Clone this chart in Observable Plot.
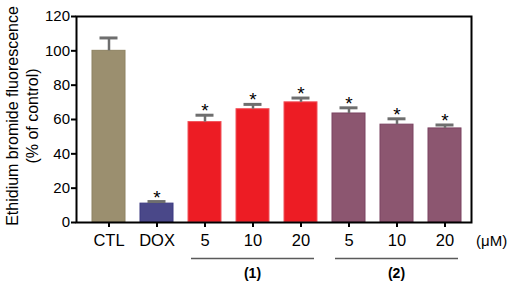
<!DOCTYPE html>
<html>
<head>
<meta charset="utf-8">
<script src="https://cdn.jsdelivr.net/npm/d3@7"></script>
<script src="https://cdn.jsdelivr.net/npm/@observablehq/plot@0.6"></script>
<style>
  html, body { margin: 0; padding: 0; background: #fff; }
  #chart { width: 510px; height: 284px; }
</style>
</head>
<body>
<div id="chart"></div>
<script>
// ---- data ----
const ids = ["CTL", "DOX", "1-5", "1-10", "1-20", "2-5", "2-10", "2-20"];
const tickLabels = ["CTL", "DOX", "5", "10", "20", "5", "10", "20"];
const values = [100, 11, 58.5, 66, 70, 63.5, 57, 54.8];
const errors = [7.5, 1.2, 4, 2.8, 2.5, 3.3, 3.4, 2];
const significant = [false, true, true, true, true, true, true, true];
const fills = ["#9b8f6f", "#4a4889", "#ed1c24", "#ed1c24", "#ed1c24", "#8c5670", "#8c5670", "#8c5670"];
const strokes = ["#8e8262", "#3b3980", "#f0525a", "#f0525a", "#f0525a", "#7b4261", "#7b4261", "#7b4261"];
const groupNames = ["(1)", "(2)"];
const groupMembers = [["1-5", "1-10", "1-20"], ["2-5", "2-10", "2-20"]];
const yTicks = [0, 20, 40, 60, 80, 100, 120];
const yTitle = ["Ethidium bromide fluorescence", "(% of control)"];
const unitLabel = "(\u03bcM)";

const rows = ids.map((id, i) => ({
  id, label: tickLabels[i], value: values[i], err: errors[i],
  top: values[i] + errors[i], sig: significant[i], fill: fills[i], stroke: strokes[i]
}));
const labelOf = Object.fromEntries(ids.map((id, i) => [id, tickLabels[i]]));

const font = "'Liberation Sans', Arial, Helvetica, sans-serif";

const plot = Plot.plot({
  width: 510,
  height: 284,
  marginLeft: 76,
  marginRight: 39,
  marginTop: 16,
  marginBottom: 62,
  style: { fontFamily: font, fontSize: "15px", color: "#000", background: "#fff" },
  x: { domain: ids, paddingInner: 0.32, paddingOuter: 0.23, align: 0.62 },
  y: { domain: [0, 120] },
  marks: [
    Plot.barY(rows, { x: "id", y: "value", fill: d => d.fill, stroke: d => d.stroke, strokeWidth: 1 }),
    Plot.ruleX(rows, { x: "id", y1: "value", y2: "top", stroke: "#6e6e6e", strokeWidth: 2.5 }),
    Plot.tickY(rows, { x: "id", y: "top", stroke: "#6e6e6e", strokeWidth: 3, insetLeft: 7.5, insetRight: 7.5 }),
    Plot.text(rows.filter(d => d.sig), { x: "id", y: "top", text: () => "*", dy: -4, fontSize: 19, fill: "#000" }),
    Plot.frame({ stroke: "#000", strokeWidth: 2 }),
    Plot.axisY({ ticks: yTicks, tickSize: 5, tickPadding: 1.5, label: null, fontSize: 15, stroke: "#000", strokeWidth: 2 }),
    Plot.axisX({ tickFormat: d => labelOf[d], tickSize: 5, tickPadding: 7, label: null, fontSize: 16.5, stroke: "#000", strokeWidth: 2 })
  ]
});

const svg = d3.select(plot);
const xs = plot.scale("x");
const bw = xs.bandwidth;
const ys = plot.scale("y");
const [yBottom, yTop] = ys.range;
const [xLeft, xRight] = xs.range;

// group lines and labels
groupMembers.forEach((members, gi) => {
  const x1 = xs.apply(members[0]) + 3;
  const x2 = xs.apply(members[members.length - 1]) + bw - 3;
  svg.append("line")
    .attr("x1", x1).attr("x2", x2)
    .attr("y1", yBottom + 36.5).attr("y2", yBottom + 36.5)
    .attr("stroke", "#5a5a5a").attr("stroke-width", 1.6);
  svg.append("text")
    .attr("x", (x1 + x2) / 2).attr("y", yBottom + 56)
    .attr("text-anchor", "middle")
    .style("font-family", font).style("font-size", "14px").style("font-weight", "bold")
    .text(groupNames[gi]);
});

// unit label
svg.append("text")
  .attr("x", xRight + 5).attr("y", yBottom + 23.5)
  .attr("text-anchor", "start")
  .style("font-family", font).style("font-size", "15px")
  .text(unitLabel);

// y title (two lines)
const yMid = 116;
yTitle.forEach((t, i) => {
  svg.append("text")
    .attr("transform", `translate(${18 + i * 20},${yMid}) rotate(-90)`)
    .attr("text-anchor", "middle")
    .style("font-family", font).style("font-size", "16px")
    .text(t);
});

document.getElementById("chart").appendChild(plot);
</script>
</body>
</html>
